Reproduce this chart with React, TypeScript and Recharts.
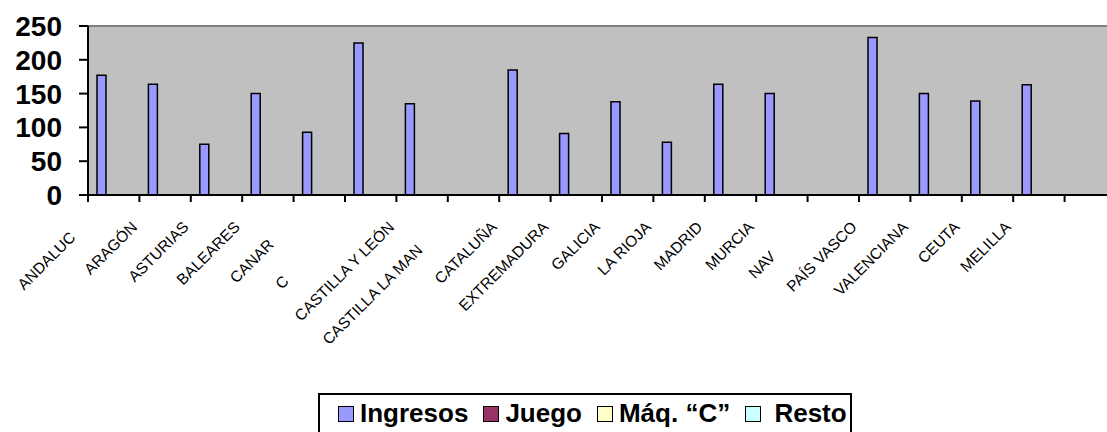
import React from 'react';
import {
  BarChart,
  Bar,
  XAxis,
  YAxis,
  CartesianGrid,
  Legend,
  ReferenceLine,
} from 'recharts';

const categories = [
  'ANDALUCÍA', 'ARAGÓN', 'ASTURIAS', 'BALEARES', 'CANARIAS', 'CANTABRIA',
  'CASTILLA Y LEÓN', 'CASTILLA LA MANCHA', 'CATALUÑA', 'EXTREMADURA', 'GALICIA',
  'LA RIOJA', 'MADRID', 'MURCIA', 'NAVARRA', 'PAÍS VASCO', 'VALENCIANA',
  'CEUTA', 'MELILLA', '',
];

// what is actually legible under the axis (the rest of each name is cut off)
const tickLabels = [
  'ANDALUC', 'ARAGÓN', 'ASTURIAS', 'BALEARES', 'CANAR', 'C',
  'CASTILLA Y LEÓN', 'CASTILLA LA MAN', 'CATALUÑA', 'EXTREMADURA', 'GALICIA',
  'LA RIOJA', 'MADRID', 'MURCIA', 'NAV', 'PAÍS VASCO', 'VALENCIANA',
  'CEUTA', 'MELILLA', '',
];

const ingresos = [177, 164, 75, 150, 93, 225, 135, null, 185, 91, 138, 78, 164, 150, null, 233, 150, 139, 163, null];
const juego: (number | null)[] = [];
const maqC: (number | null)[] = [];
const resto: (number | null)[] = [];

const yTicks = [0, 50, 100, 150, 200, 250];

const series = [
  { key: 'ingresos', name: 'Ingresos', color: '#9999FF' },
  { key: 'juego', name: 'Juego', color: '#993366' },
  { key: 'maqC', name: 'Máq. “C”', color: '#FFFFCC' },
  { key: 'resto', name: ' Resto', color: '#CCFFFF' },
];

const data = categories.map((name, i) => ({
  name,
  ingresos: ingresos[i] ?? null,
  juego: juego[i] ?? null,
  maqC: maqC[i] ?? null,
  resto: resto[i] ?? null,
}));

const FONT = '"Liberation Sans", Arial, sans-serif';

const CategoryTick = (props: any) => {
  const { x, y, payload } = props;
  const half = payload.offset ?? 25.7;
  const full = String(payload.value);
  const idx = categories.indexOf(full);
  const shown = idx >= 0 ? tickLabels[idx] : full;
  const hidden = full.slice(shown.length);
  return (
    <g>
      {/* tick marks sit on the category boundaries, not the centres */}
      <line x1={x - half} x2={x - half} y1={y} y2={y + 7} stroke="#000" strokeWidth={2} />
      <g transform={`translate(${x - 27} ${y + 33}) rotate(-45)`}>
        <text x={0} y={0} textAnchor="end" fontSize={15.5} fontFamily={FONT} fill="#000">
          {shown}
          {hidden && <tspan fill="none">{hidden}</tspan>}
        </text>
      </g>
    </g>
  );
};

const LegendBox = () => (
  <div
    style={{
      border: '2px solid #000',
      height: 60,
      boxSizing: 'border-box',
      display: 'flex',
      alignItems: 'flex-start',
      paddingTop: 3,
      paddingLeft: 18,
      overflow: 'hidden',
      fontFamily: FONT,
      fontWeight: 'bold',
      fontSize: 26,
      color: '#000',
      background: '#fff',
    }}
  >
    {series.map((s) => (
      <div key={s.key} style={{ display: 'flex', alignItems: 'flex-start', marginRight: 15, flexShrink: 0 }}>
        <span
          style={{
            display: 'inline-block',
            width: 14,
            height: 14,
            marginTop: 8,
            marginRight: 6,
            border: '1.5px solid #000',
            background: s.color,
          }}
        />
        <span style={{ whiteSpace: 'pre' }}>{s.name}</span>
      </div>
    ))}
  </div>
);

export default function App() {
  return (
    <div
      style={{
        position: 'absolute',
        left: 0,
        top: 0,
        width: 1107,
        height: 432,
        overflow: 'hidden',
        background: '#fff',
      }}
    >
      <BarChart
        width={1120}
        height={432}
        data={data}
        barSize={9}
        barGap={-1}
        margin={{ top: 26, right: 4, left: 0, bottom: 137 }}
      >
        <CartesianGrid fill="#C0C0C0" horizontal={false} vertical={false} />
        <ReferenceLine y={250} stroke="#808080" strokeWidth={2} />
        <XAxis
          dataKey="name"
          interval={0}
          height={100}
          tickLine={false}
          tickSize={0}
          tickMargin={0}
          axisLine={{ stroke: '#000', strokeWidth: 2 }}
          tick={<CategoryTick />}
        />
        <YAxis
          width={88}
          domain={[0, 250]}
          ticks={yTicks}
          interval={0}
          tickSize={9}
          tickMargin={17}
          axisLine={{ stroke: '#000', strokeWidth: 2 }}
          tickLine={{ stroke: '#000', strokeWidth: 2 }}
          tick={{ fontSize: 28, fontWeight: 'bold', fill: '#000', fontFamily: FONT }}
        />
        <Legend
          layout="horizontal"
          verticalAlign="middle"
          align="center"
          wrapperStyle={{ left: 318, top: 393, width: 534 }}
          content={<LegendBox />}
        />
        {series.map((s) => (
          <Bar
            key={s.key}
            dataKey={s.key}
            name={s.name}
            fill={s.color}
            stroke="#000"
            strokeWidth={1.5}
            isAnimationActive={false}
          />
        ))}
      </BarChart>
    </div>
  );
}
